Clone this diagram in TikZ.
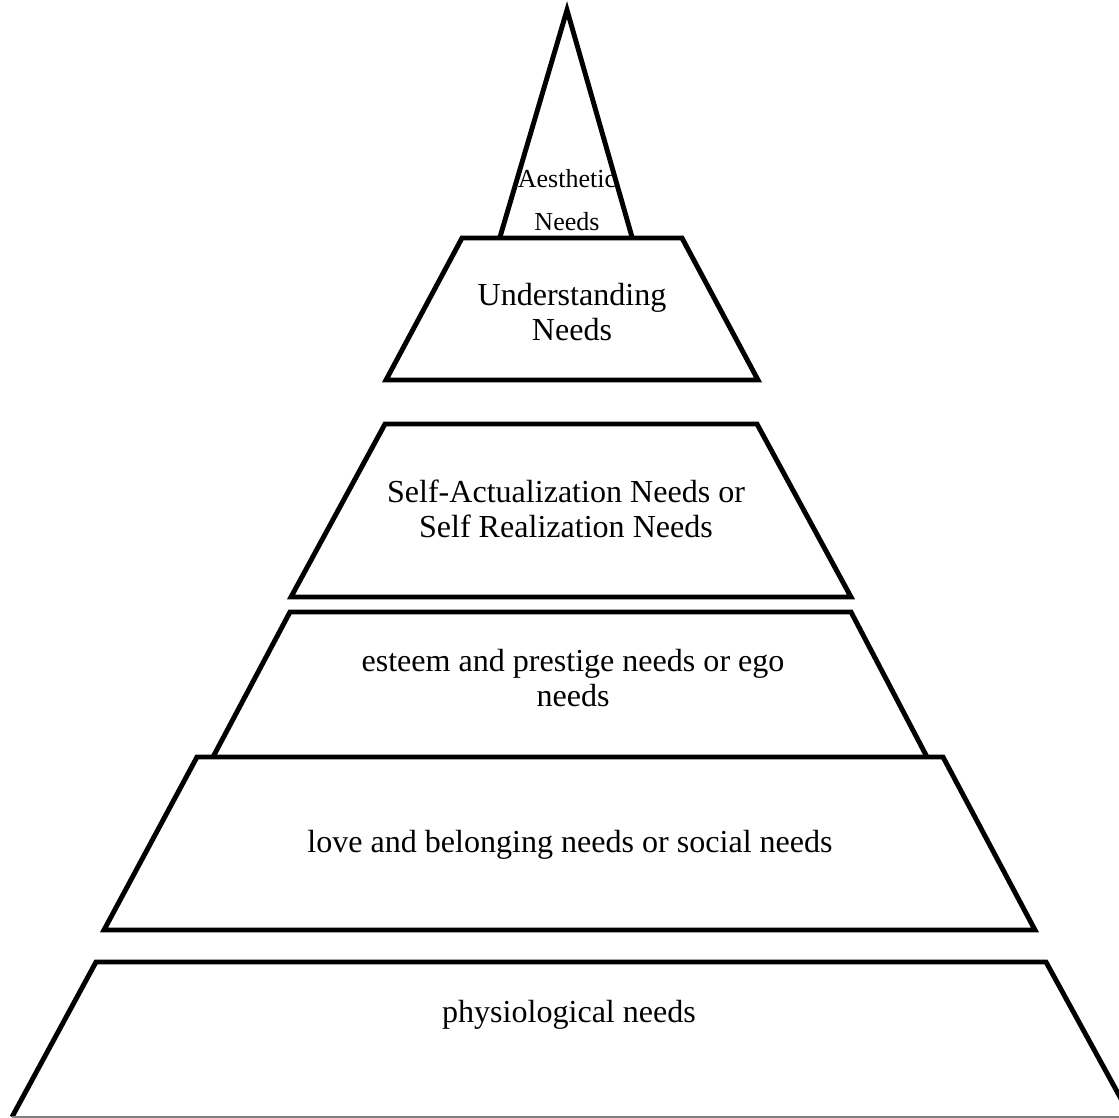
\documentclass[tikz,border=0pt]{standalone}
\usepackage{fontspec}
\setmainfont{Liberation Serif}
\usepackage{tikz}

\begin{document}
\begin{tikzpicture}[x=0.025cm, y=-0.025cm, tier/.style = {draw, line width=3.5pt, line join=miter},
	txt/.style = {align=center, font=\fontsize{22.8}{25}\selectfont, inner sep=0pt}]
	\useasboundingbox (0,0) rectangle (1119,1118);
	\clip (0,0) rectangle (1119,1118);
	\draw[tier] (500,237) -- (567,10) -- (632,237);
	\draw[tier] (462,238) -- (682,238) -- (758,380) -- (386,380) -- cycle;
	\draw[tier] (385,424) -- (757,424) -- (851,597) -- (291,597) -- cycle;
	\draw[tier] (213,757) -- (290,612) -- (851,612) -- (927,757);
	\draw[tier] (197,757) -- (943,757) -- (1035,930) -- (104,930) -- cycle;
	\draw[tier] (12,1117) -- (96,962) -- (1046,962) -- (1131,1117);
	\draw[gray, line width=1pt] (12,1117) -- (1119,1117);
	\node[txt, font=\fontsize{18.5}{31}\selectfont] (aes) at (567,200) {Aesthetic\\Needs};
	\node[txt] (und) at (572,312) {Understanding\\Needs};
	\node[txt] (self) at (566,509) {Self-Actualization Needs or\\Self Realization Needs};
	\node[txt] (est) at (573,678) {esteem and prestige needs or ego\\needs};
	\node[txt] (love) at (570,845) {love and belonging needs or social needs};
	\node[txt] (phys) at (569,1015) {physiological needs};
\end{tikzpicture}
\end{document}
